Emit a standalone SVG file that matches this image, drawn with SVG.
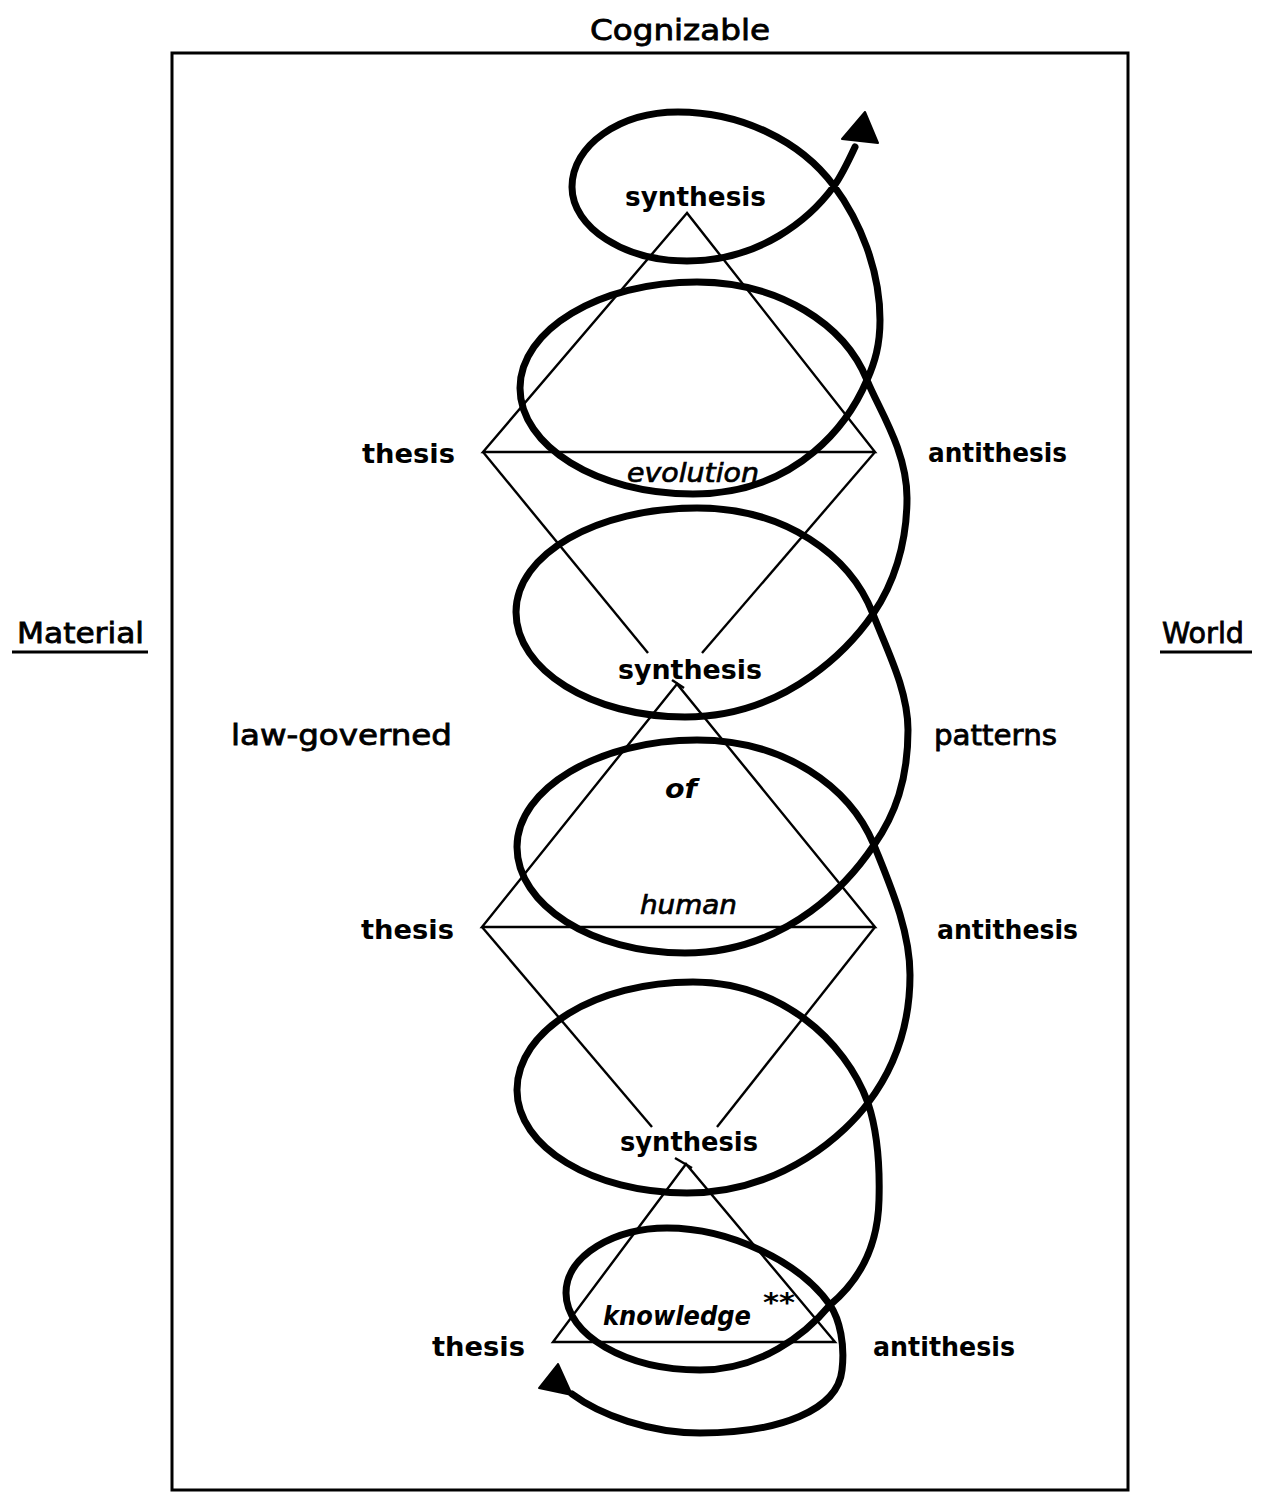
<svg xmlns="http://www.w3.org/2000/svg" width="1263" height="1502" viewBox="0 0 1263 1502">
<style>
.lbl{font-family:"DejaVu Sans","Liberation Sans",sans-serif;font-weight:bold;font-size:26px;fill:#000}
.reg{font-family:"DejaVu Sans","Liberation Sans",sans-serif;font-size:28px;fill:#000;stroke:#000;stroke-width:0.8}
.ita{font-family:"DejaVu Sans","Liberation Sans",sans-serif;font-style:italic;font-size:26px;fill:#000;stroke:#000;stroke-width:0.7}
.itb{font-family:"DejaVu Sans","Liberation Sans",sans-serif;font-style:italic;font-weight:bold;font-size:26px;fill:#000}
.thin{fill:none;stroke:#000;stroke-width:2.4;stroke-linejoin:miter}
.thick{fill:none;stroke:#000;stroke-width:7;stroke-linecap:round;stroke-linejoin:round}
.ul{stroke:#000;stroke-width:3}
</style>
<rect width="1263" height="1502" fill="#fff"/>
<rect id="frame" x="172" y="53" width="956" height="1437" fill="none" stroke="#000" stroke-width="3"/>
<g id="connectors">
<polygon class="thin" points="687,213 483,452 875,452"/>
<line class="thin" x1="483" y1="452" x2="648" y2="653"/>
<line class="thin" x1="875" y1="452" x2="702" y2="653"/>
<polygon class="thin" points="677,684 482,927 875,927"/>
<line class="thin" x1="672" y1="680" x2="684" y2="688"/>
<line class="thin" x1="482" y1="927" x2="652" y2="1127"/>
<line class="thin" x1="875" y1="927" x2="717" y2="1127"/>
<polygon class="thin" points="686,1164 553,1342 835,1342"/>
<line class="thin" x1="675" y1="1158" x2="692" y2="1168"/>
<path class="thick" d="M 855,147 C 848,162 842,175 834,186 C 810,219 760,261 687,261 C 625,261 572,228 572,187 C 572,145 620,112 678,112 C 740,112 800,140 834,186 C 860,221 880,270 880,320 C 880,345 875,362 867,380 C 850,420 800,494 693,494 C 597,494 520,446 520,388 C 520,330 599,282 697,282 C 780,282 845,325 867,380 C 878,408 907,450 907,498 C 907,545 893,585 873,614 C 853,643 790,717 685,717 C 592,717 516,670 516,612 C 516,554 597,508 697,508 C 785,508 850,555 873,614 C 887,650 908,690 908,730 C 908,780 895,815 874,845 C 852,878 790,953 685,953 C 592,953 517,905 517,847 C 517,789 598,740 697,740 C 785,740 850,787 874,845 C 890,885 910,930 910,975 C 910,1030 893,1070 868,1103 C 848,1130 785,1193 687,1193 C 593,1193 517,1147 517,1090 C 517,1030 596,982 693,982 C 780,982 845,1040 868,1103 C 877,1130 880,1165 879,1200 C 878,1245 860,1280 830,1305 C 805,1335 760,1370 700,1370 C 626,1370 566,1335 566,1293 C 566,1255 615,1228 667,1228 C 730,1228 800,1262 830,1305 C 840,1320 845,1345 842,1370 C 838,1410 780,1433 700,1433 C 650,1433 600,1415 572,1394"/>
<polygon points="865,112 842,139 878,143" fill="#000" stroke="#000" stroke-width="2" stroke-linejoin="round"/>
<polygon points="558,1364 539,1388 572,1395" fill="#000" stroke="#000" stroke-width="2" stroke-linejoin="round"/>
</g>
<g id="cognizable"><text class="reg" x="590" y="40" textLength="180" lengthAdjust="spacingAndGlyphs">Cognizable</text></g>
<g id="material"><text class="reg" x="17" y="643" textLength="127" lengthAdjust="spacingAndGlyphs">Material</text><line class="ul" x1="12" y1="652" x2="148" y2="652"/></g>
<g id="world"><text class="reg" x="1162" y="643" textLength="82" lengthAdjust="spacingAndGlyphs">World</text><line class="ul" x1="1160" y1="652" x2="1252" y2="652"/></g>
<g id="law-governed"><text class="reg" x="231" y="745" textLength="221" lengthAdjust="spacingAndGlyphs">law-governed</text></g>
<g id="patterns"><text class="reg" x="934" y="745" textLength="123" lengthAdjust="spacingAndGlyphs">patterns</text></g>
<g id="synthesis-1"><text class="lbl" x="625" y="206" textLength="141" lengthAdjust="spacingAndGlyphs">synthesis</text></g>
<g id="thesis-1"><text class="lbl" x="362" y="463" textLength="93" lengthAdjust="spacingAndGlyphs">thesis</text></g>
<g id="antithesis-1"><text class="lbl" x="928" y="462" textLength="139" lengthAdjust="spacingAndGlyphs">antithesis</text></g>
<g id="synthesis-2"><text class="lbl" x="618" y="679" textLength="144" lengthAdjust="spacingAndGlyphs">synthesis</text></g>
<g id="thesis-2"><text class="lbl" x="361" y="939" textLength="93" lengthAdjust="spacingAndGlyphs">thesis</text></g>
<g id="antithesis-2"><text class="lbl" x="937" y="939" textLength="141" lengthAdjust="spacingAndGlyphs">antithesis</text></g>
<g id="synthesis-3"><text class="lbl" x="620" y="1151" textLength="138" lengthAdjust="spacingAndGlyphs">synthesis</text></g>
<g id="thesis-3"><text class="lbl" x="432" y="1356" textLength="93" lengthAdjust="spacingAndGlyphs">thesis</text></g>
<g id="antithesis-3"><text class="lbl" x="873" y="1356" textLength="142" lengthAdjust="spacingAndGlyphs">antithesis</text></g>
<g id="evolution"><text class="ita" x="627" y="482" textLength="132" lengthAdjust="spacingAndGlyphs">evolution</text></g>
<g id="of"><text class="itb" x="665" y="798" textLength="32" lengthAdjust="spacingAndGlyphs">of</text></g>
<g id="human"><text class="ita" x="640" y="914" textLength="97" lengthAdjust="spacingAndGlyphs">human</text></g>
<g id="knowledge"><text class="itb" x="603" y="1325" textLength="148" lengthAdjust="spacingAndGlyphs">knowledge</text><text class="itb" x="763" y="1312" font-size="22" textLength="32" lengthAdjust="spacingAndGlyphs">**</text></g>
</svg>
